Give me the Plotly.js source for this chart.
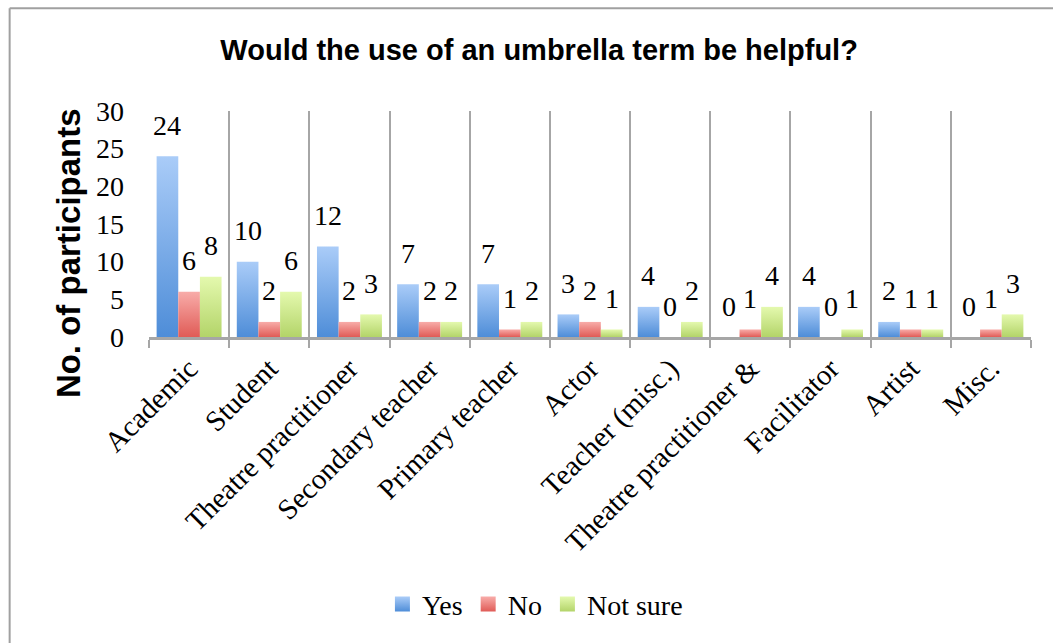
<!DOCTYPE html>
<html>
<head>
<meta charset="utf-8">
<script src="https://cdn.plot.ly/plotly-3.0.1.min.js"></script>
<style>
  html, body { margin: 0; padding: 0; background: #fff; }
  #chart { width: 1053px; height: 643px; }
</style>
</head>
<body>
<div id="chart"></div>
<script>
const categories = ["Academic", "Student", "Theatre practitioner", "Secondary teacher", "Primary teacher", "Actor", "Teacher (misc.)", "Theatre practitioner &", "Facilitator", "Artist", "Misc."];
const yesValues = [24, 10, 12, 7, 7, 3, 4, 0, 4, 2, 0];
const noValues = [6, 2, 2, 2, 1, 2, 0, 1, 0, 1, 1];
const notSureValues = [8, 6, 3, 2, 2, 1, 2, 4, 1, 1, 3];
const seriesNames = ["Yes", "No", "Not sure"];
const yTicks = [0, 5, 10, 15, 20, 25, 30];

const serif = "Liberation Serif, Times New Roman, serif";
const sans = "Liberation Sans, Arial, sans-serif";
const colors = ["#6FA3E6", "#EC7F7B", "#C7E68A"];
const grads = [["#AACCF8", "#4E8DD8"], ["#F8ACA9", "#E05B56"], ["#E4F9AE", "#B3D469"]];
const allSeries = [yesValues, noValues, notSureValues];

const traces = allSeries.map((vals, i) => ({
  type: "bar",
  name: seriesNames[i],
  x: categories,
  y: vals,
  marker: { color: colors[i], line: { width: 0 } },
  hoverinfo: "skip"
}));

// data labels via annotations
const barPx = 21.7;
const annotations = [];
allSeries.forEach((vals, i) => {
  vals.forEach((v, j) => {
    annotations.push({
      x: categories[j], y: v, xref: "x", yref: "y",
      text: String(v), showarrow: false,
      xshift: (i - 1) * barPx, yshift: 31,
      yanchor: "middle",
      font: { family: serif, size: 28, color: "#000" }
    });
  });
});
annotations.push({
  xref: "paper", yref: "paper", x: -0.091, y: 0.37,
  text: "<b>No. of participants</b>", textangle: -90, showarrow: false,
  xanchor: "center", yanchor: "middle",
  font: { family: sans, size: 33, color: "#000" }
});

const layout = {
  width: 1053, height: 643,
  margin: { l: 149, r: 22, t: 111, b: 306 },
  paper_bgcolor: "#fff", plot_bgcolor: "#fff",
  title: {
    text: "<b>Would the use of an umbrella term be helpful?</b>",
    x: 0.512, xanchor: "center", y: 0.922, yanchor: "middle",
    font: { family: sans, size: 29, color: "#000" }
  },
  barmode: "group", bargap: 0.19, bargroupgap: 0,
  xaxis: {
    type: "category",
    tickson: "boundaries",
    showgrid: true, gridcolor: "#A6A6A6", gridwidth: 2,
    ticks: "outside", ticklen: 8, tickcolor: "#A6A6A6", tickwidth: 2,
    showline: true, linecolor: "#A6A6A6", linewidth: 3,
    tickangle: -45,
    tickfont: { family: serif, size: 29, color: "#000" },
    zeroline: false
  },
  yaxis: {
    range: [0, 30], tickvals: yTicks, ticktext: yTicks.map(String),
    showgrid: false, zeroline: false, showline: false, ticks: "",
    ticklabelstandoff: 24,
    tickfont: { family: serif, size: 28, color: "#000" }
  },
  legend: {
    orientation: "h", xref: "container", yref: "container",
    x: 0.508, xanchor: "center", y: 0.06, yanchor: "middle",
    font: { family: serif, size: 28, color: "#000" },
    itemwidth: 30, traceorder: "normal"
  },
  annotations: annotations,
  shapes: [
    { type: "line", xref: "paper", yref: "paper", x0: -0.158, x1: 1.03, y0: 1.455, y1: 1.455,
      line: { color: "#A0A0A0", width: 2 } },
    { type: "line", xref: "paper", yref: "paper", x0: -0.158, x1: -0.158, y0: 1.455, y1: -1.5,
      line: { color: "#A0A0A0", width: 2 } }
  ],
  showlegend: true
};

function applyGradients(gd) {
  const svg = gd.querySelector("svg.main-svg");
  if (!svg) return;
  let defs = svg.querySelector("defs");
  if (!defs) { defs = document.createElementNS("http://www.w3.org/2000/svg", "defs"); svg.prepend(defs); }
  const ns = "http://www.w3.org/2000/svg";
  grads.forEach((g, i) => {
    const id = "barGrad" + i;
    if (!defs.querySelector("#" + id)) {
      const lg = document.createElementNS(ns, "linearGradient");
      lg.setAttribute("id", id);
      lg.setAttribute("x1", "0"); lg.setAttribute("y1", "0");
      lg.setAttribute("x2", "0"); lg.setAttribute("y2", "1");
      [[0, g[0]], [1, g[1]]].forEach(([o, c]) => {
        const s = document.createElementNS(ns, "stop");
        s.setAttribute("offset", o); s.setAttribute("stop-color", c);
        lg.appendChild(s);
      });
      defs.appendChild(lg);
    }
  });
  gd.querySelectorAll(".barlayer .trace.bars").forEach((tr, i) => {
    tr.querySelectorAll("path").forEach(p => { p.style.fill = "url(#barGrad" + i + ")"; });
  });
  gd.querySelectorAll(".legend .traces").forEach((tr, i) => {
    tr.querySelectorAll(".legendpoints path").forEach(p => {
      p.style.fill = "url(#barGrad" + i + ")";
      p.setAttribute("d", "M8,7.5H-7V-7.5H8Z");
    });
  });
}

Plotly.newPlot("chart", traces, layout, { staticPlot: true, displayModeBar: false }).then(gd => {
  applyGradients(gd);
  gd.on("plotly_afterplot", () => applyGradients(gd));
});
</script>
</body>
</html>
